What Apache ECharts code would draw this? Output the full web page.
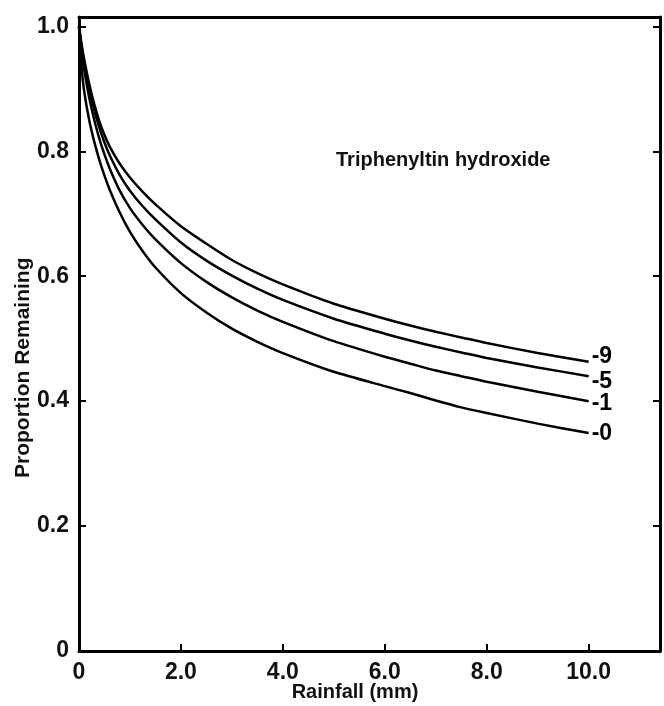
<!DOCTYPE html>
<html><head><meta charset="utf-8">
<script src="https://cdn.jsdelivr.net/npm/echarts@6/dist/echarts.min.js"></script>
<style>html,body{margin:0;padding:0;background:#fff}#c{width:664px;height:706px}</style>
</head><body><div id="c"></div>
<script>
var rainfall = [0, 0.05, 0.1, 0.2, 0.3, 0.4, 0.5, 0.6, 0.8, 1.0, 1.25, 1.5, 2, 2.5, 3, 3.5, 4, 5, 6, 6.5, 7, 7.5, 8, 9, 10];
var curve9 = [1.0, 0.972, 0.948, 0.908, 0.875, 0.848, 0.826, 0.808, 0.78, 0.758, 0.735, 0.715, 0.68, 0.652, 0.626, 0.605, 0.587, 0.556, 0.532, 0.521, 0.511, 0.502, 0.493, 0.477, 0.463];
var curve5 = [1.0, 0.968, 0.942, 0.9, 0.866, 0.838, 0.814, 0.794, 0.762, 0.737, 0.712, 0.691, 0.654, 0.625, 0.601, 0.58, 0.562, 0.532, 0.508, 0.497, 0.487, 0.478, 0.469, 0.454, 0.44];
var curve1 = [1.0, 0.962, 0.932, 0.886, 0.85, 0.82, 0.795, 0.773, 0.737, 0.709, 0.682, 0.659, 0.621, 0.591, 0.566, 0.545, 0.527, 0.496, 0.471, 0.46, 0.449, 0.44, 0.431, 0.415, 0.40];
var curve0 = [1.0, 0.935, 0.897, 0.85, 0.815, 0.786, 0.761, 0.739, 0.702, 0.671, 0.64, 0.614, 0.573, 0.542, 0.516, 0.495, 0.477, 0.447, 0.424, 0.413, 0.401, 0.39, 0.381, 0.364, 0.349];
var seriesNames = ['-9', '-5', '-1', '-0'];
var seriesValues = [curve9, curve5, curve1, curve0];
var xTicks = [0, 2, 4, 6, 8, 10];
var xTickLabels = ['0', '2.0', '4.0', '6.0', '8.0', '10.0'];
var yTicks = [0, 0.2, 0.4, 0.6, 0.8, 1.0];
var yTickLabels = ['0', '0.2', '0.4', '0.6', '0.8', '1.0'];
var titleText = 'Triphenyltin hydroxide';
var xName = 'Rainfall (mm)';
var yName = 'Proportion Remaining';

var FONT = 'Liberation Sans';
var labelOffsets = [[0, -5], [0, 5], [0, 3], [0, 1]];
function lab(ticks, labels) {
  return function (v) {
    for (var i = 0; i < ticks.length; i++) if (Math.abs(ticks[i] - v) < 1e-6) return labels[i];
    return '';
  };
}
var chart = echarts.init(document.getElementById('c'));
var axLine = {show: true, onZero: false, lineStyle: {color: '#000', width: 3}};
var series = seriesValues.map(function (vals, k) {
  return {
    type: 'line', name: seriesNames[k],
    xAxisIndex: 0, yAxisIndex: 0,
    data: rainfall.map(function (x, i) { return [x, vals[i]]; }),
    smooth: 0.2, symbol: 'none',
    lineStyle: {color: '#000', width: 2.5},
    endLabel: {show: true, formatter: seriesNames[k], distance: 3, offset: labelOffsets[k],
      color: '#000', fontFamily: FONT, fontWeight: 'bold', fontSize: 23},
    animation: false
  };
});
chart.setOption({
  animation: false,
  grid: {left: 79, right: 4, top: 17, bottom: 55},
  title: {text: titleText, left: 331, top: 145,
    textStyle: {fontFamily: FONT, fontWeight: 'bold', fontSize: 20, color: '#111'}},
  graphic: [
    {type: 'text', x: 355, y: 682, style: {text: xName, fill: '#111',
      font: 'bold 20px "Liberation Sans"', textAlign: 'center', textVerticalAlign: 'top'}},
    {type: 'text', rotation: Math.PI / 2, x: 13, y: 478, style: {text: yName, fill: '#111',
      font: 'bold 21px "Liberation Sans"'}}
  ],
  xAxis: [{
    type: 'value', position: 'bottom', min: 0, max: 11.4, interval: 2,
    axisLine: axLine,
    axisTick: {show: true, inside: true, length: 7, lineStyle: {color: '#000', width: 2}},
    axisLabel: {formatter: lab(xTicks, xTickLabels), showMaxLabel: false, margin: 10,
      fontFamily: FONT, fontWeight: 'bold', fontSize: 23, color: '#111'},
    splitLine: {show: false}
  }, {
    type: 'value', position: 'top', min: 0, max: 11.4,
    axisLine: axLine, axisTick: {show: false}, axisLabel: {show: false}, splitLine: {show: false}
  }],
  yAxis: [{
    type: 'value', position: 'left', min: 0, max: 1.015, interval: 0.2,
    axisLine: axLine,
    axisTick: {show: true, inside: true, length: 7, lineStyle: {color: '#000', width: 2}},
    axisLabel: {formatter: lab(yTicks, yTickLabels), showMaxLabel: false, margin: 10,
      fontFamily: FONT, fontWeight: 'bold', fontSize: 23, color: '#111'},
    splitLine: {show: false}
  }, {
    type: 'value', position: 'right', min: 0, max: 1.015, interval: 0.2,
    axisLine: axLine,
    axisTick: {show: true, inside: true, length: 7, lineStyle: {color: '#000', width: 2}},
    axisLabel: {show: false}, splitLine: {show: false}
  }],
  series: series
});
</script></body></html>
